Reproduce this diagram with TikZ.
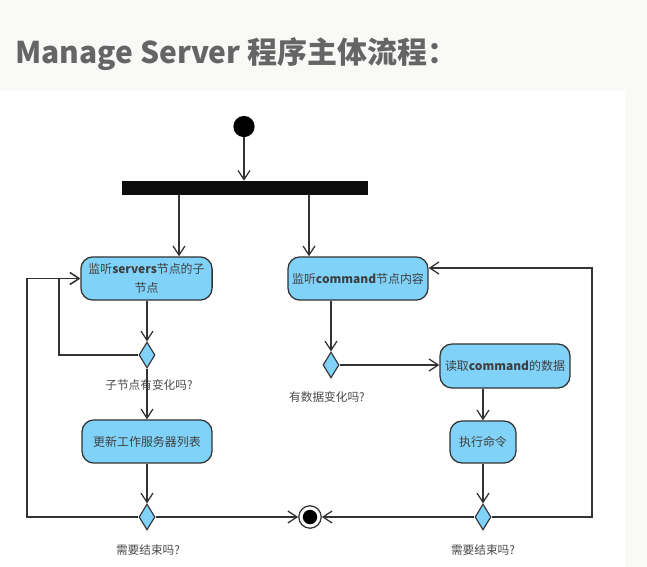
\documentclass[tikz,border=0pt]{standalone}
\usepackage{fontspec}
\usepackage{tikz}
\usepackage{xcolor}
\usetikzlibrary{shapes.geometric,arrows.meta}
\setmainfont{Noto Sans CJK SC}
\definecolor{actblue}{HTML}{80D2F8}
\definecolor{edgegray}{HTML}{333333}
\definecolor{titlegray}{HTML}{656565}
\definecolor{notegray}{HTML}{4A4A4A}
\definecolor{paper}{HTML}{F9F9F7}

\tikzset{
  act/.style={draw=edgegray,line width=0.9pt,fill=actblue,rounded corners=0.3cm,
    minimum height=1.08cm,align=center,inner sep=2pt,
    font=\fontsize{8.5}{13}\selectfont,text=black!75},
  dec/.style={draw=edgegray,line width=0.8pt,fill=actblue,diamond,inner sep=0pt,
    minimum width=0.4cm,minimum height=0.65cm},
  note/.style={font=\fontsize{8.3}{10}\selectfont,text=notegray},
  flow/.style={draw=edgegray,line width=0.9pt,-{Straight Barb[length=6.5pt,width=8.5pt]}},
  wire/.style={draw=edgegray,line width=0.9pt}
}

\begin{document}
\begin{tikzpicture}[x=0.025cm,y=-0.025cm]
      \useasboundingbox (0,0) rectangle (647,567);
      \fill [paper] (0,0) rectangle (647,567);
      \fill [white] (0,91) rectangle (625,567);
      \node [anchor=base west,font=\bfseries\fontsize{21.3}{26}\selectfont,text=titlegray,inner sep=0pt] (title) at (15,63) {Manage Server 程序主体流程：};

      % start and fork
      \node [circle,fill=black,minimum size=0.53cm,inner sep=0pt] (start) at (244,126.5) {};
      \node [fill=black!95,minimum width=6.15cm,minimum height=0.35cm,inner sep=0pt] (fork) at (245,188) {};
      \draw [flow] (start) -- (fork.north -| start);

      % left branch
      \node [act,minimum width=3.28cm] (watchsrv) at (146.5,278.5) {监听\textbf{servers}节点的子\\节点};
      \node [dec] (d1) at (147,355) {};
      \node [note] (q1) at (149,385) {子节点有变化吗?};
      \node [act,minimum width=3.25cm] (update) at (147,441.5) {更新工作服务器列表};
      \node [dec] (d2) at (147,517) {};
      \node [note] (q2) at (148,550) {需要结束吗?};

      % right branch
      \node [act,minimum width=3.5cm] (watchcmd) at (358,278.5) {监听\textbf{command}节点内容};
      \node [dec] (d3) at (331,365) {};
      \node [note] (q3) at (327,397) {有数据变化吗?};
      \node [act,minimum width=3.25cm,minimum height=1.1cm] (readcmd) at (505,366) {读取\textbf{command}的数据};
      \node [act,minimum width=1.65cm,minimum height=1.05cm] (exec) at (483,442) {执行命令};
      \node [dec] (d4) at (483,517) {};
      \node [note] (q4) at (483,550) {需要结束吗?};

      % end
      \node [circle,draw=edgegray,line width=0.9pt,fill=white,minimum size=0.56cm,inner sep=0pt] (fin) at (310,517) {};
      \node [circle,fill=black,minimum size=0.36cm,inner sep=0pt] (fincore) at (fin) {};

      \coordinate (forkl) at (179,0);
      \coordinate (forkr) at (309,0);
      \coordinate (loopin) at (59,0);
      \coordinate (loopout) at (27,0);
      \coordinate (loopr) at (592,268);

      \draw [flow] (fork.south -| forkl) -- (watchsrv.north -| forkl);
      \draw [flow] (fork.south -| forkr) -- (watchcmd.north -| forkr);
      \draw [flow] (watchsrv.south -| d1) -- (d1.north);
      \draw [flow] (d1.south) -- (update.north -| d1);
      \draw [flow] (d1.west) -| (loopin |- watchsrv.west) -- (watchsrv.west);
      \draw [flow] (update.south -| d2) -- (d2.north);
      \draw [flow] (d2.west) -| (loopout |- watchsrv.west) -- (watchsrv.west);
      \draw [flow] (d2.east) -- (fin.west);

      \draw [flow] (watchcmd.south -| d3) -- (d3.north);
      \draw [flow] (d3.east) -- (readcmd.west |- d3.east);
      \draw [flow] (readcmd.south -| exec) -- (exec.north);
      \draw [flow] (exec.south) -- (d4.north);
      \draw [flow] (d4.west) -- (fin.east);
      \draw [flow] (d4.east) -| (loopr) -- (watchcmd.east |- loopr);
    \end{tikzpicture}
\end{document}
